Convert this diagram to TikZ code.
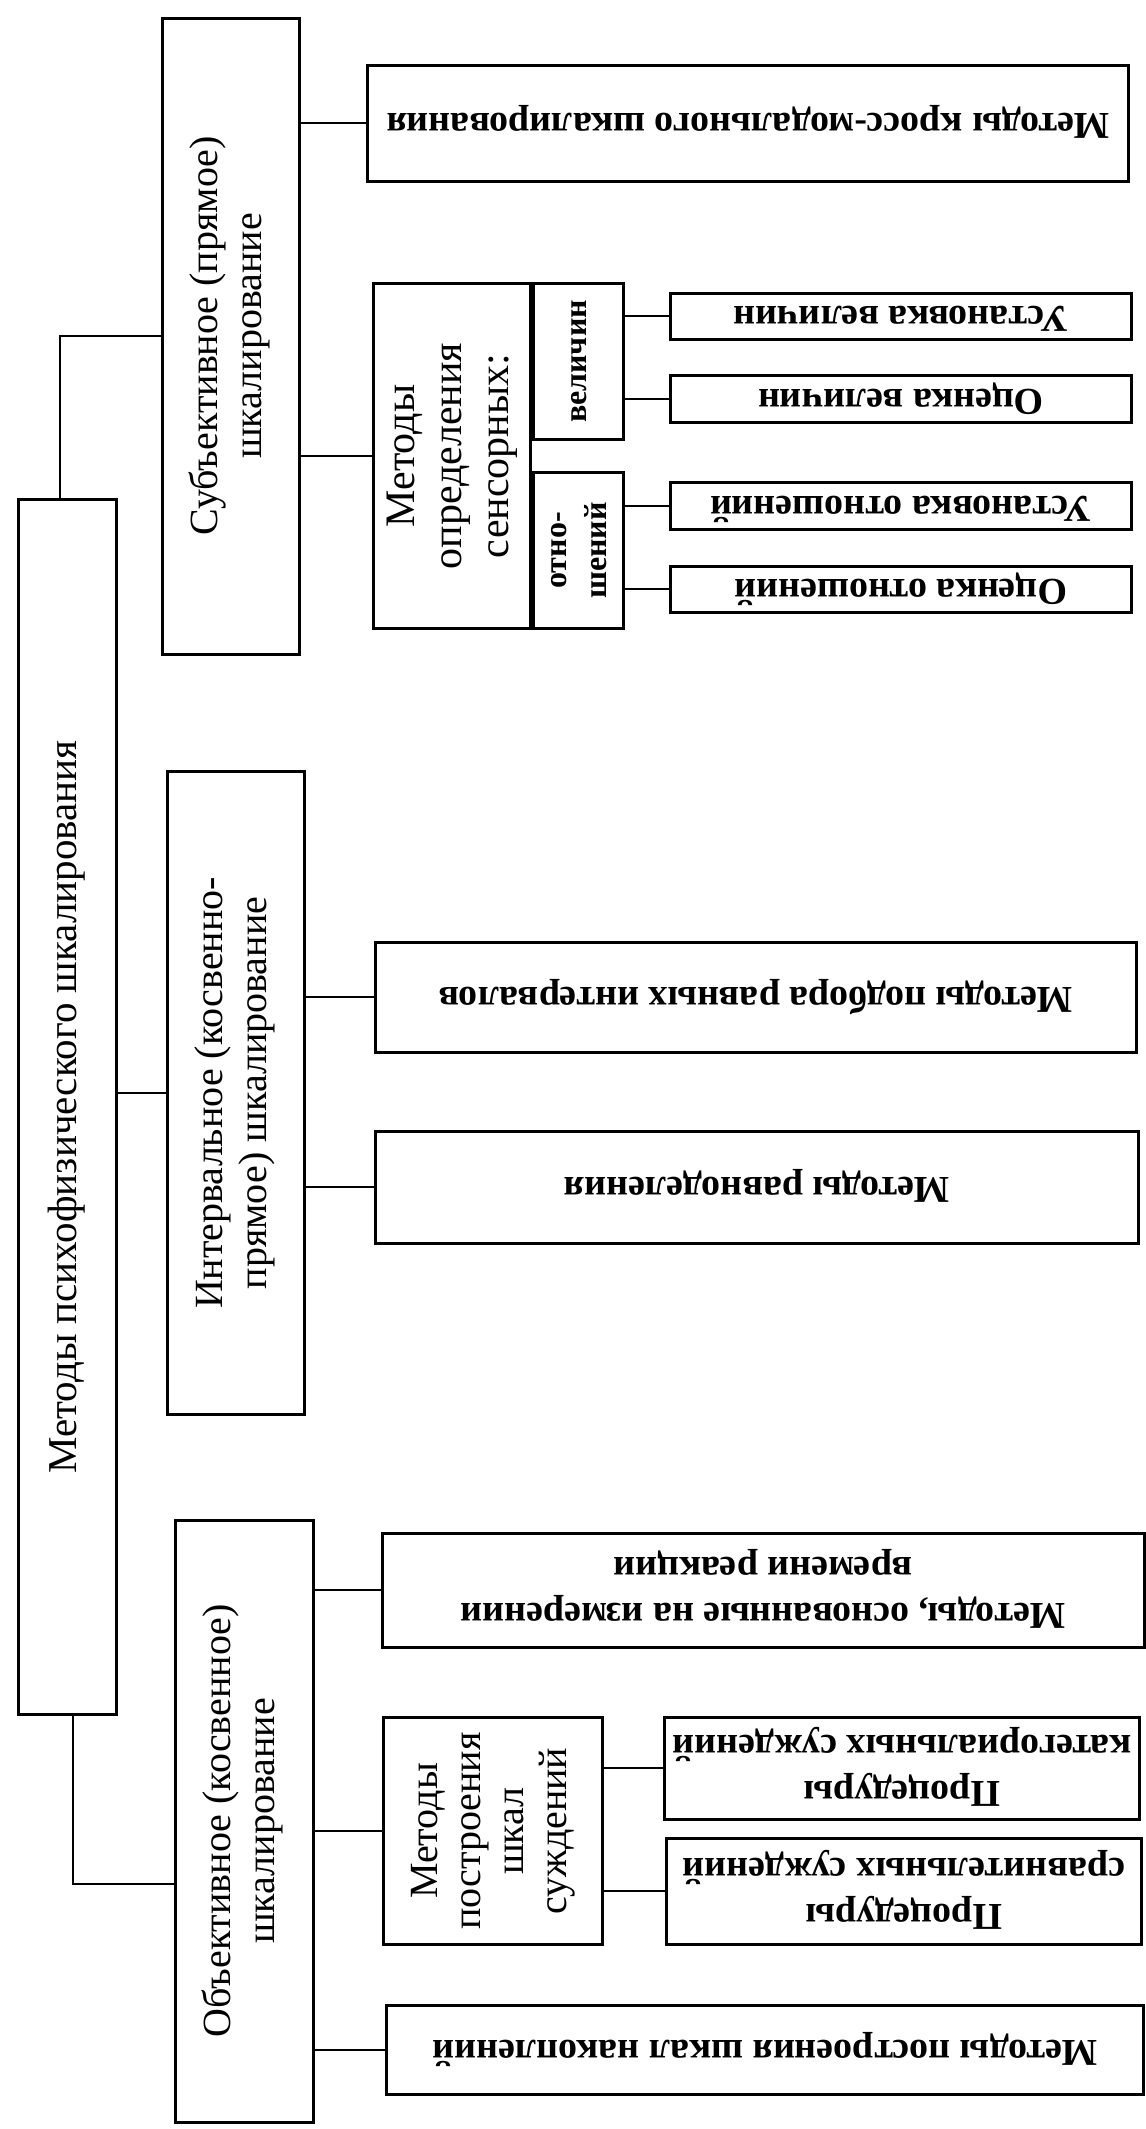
\documentclass[tikz,border=0pt]{standalone}
\usepackage{graphicx}
\usepackage{fontspec}
\setmainfont{Liberation Serif}
\newcommand\upT[1]{\rotatebox{90}{\begin{tabular}{@{}c@{}}#1\end{tabular}}}
\newcommand\dnT[1]{\rotatebox{180}{\begin{tabular}{@{}c@{}}#1\end{tabular}}}
\tikzset{
  bx/.style={draw, line width=3pt, rectangle, inner sep=0pt, align=center,
    font=\fontsize{40}{44}\selectfont},
  mid/.style={bx, font=\fontsize{42}{47}\selectfont},
  sub/.style={bx, font=\fontsize{32}{40}\selectfont\bfseries},
  lf/.style={bx, font=\fontsize{38}{46}\selectfont\bfseries},
  ln/.style={line width=2.5pt}
}
\begin{document}
\begin{tikzpicture}[x=1pt,y=-1pt]
\useasboundingbox[fill=white] (0,0) rectangle (1146,2129);
% root
\node[bx, font=\fontsize{41}{46}\selectfont, minimum width=98pt, minimum height=1215pt] (root) at (67,1107) {\upT{Методы психофизического шкалирования}};
% level 1
\node[bx, minimum width=137pt, minimum height=636pt] (subj) at (231,336) {\upT{Субъективное (прямое)\\шкалирование}};
\node[bx, minimum width=137pt, minimum height=643pt] (intv) at (236,1093) {\upT{Интервальное (косвенно-\\прямое) шкалирование}};
\node[bx, minimum width=138pt, minimum height=602pt] (obj) at (244,1821) {\upT{Объективное (косвенное)\\шкалирование}};
% subjective children
\node[lf, minimum width=761pt, minimum height=116pt] (cross) at (748,123) {\dnT{Методы кросс-модального шкалирования}};
\node[mid, minimum width=157pt, minimum height=345pt] (sens) at (452,456) {\upT{Методы\\определения\\сенсорных:}};
\node[sub, minimum width=90pt, minimum height=156pt, anchor=north west] (vel) at (sens.north east) {\upT{величин}};
\node[sub, minimum width=90pt, minimum height=156pt, anchor=south west] (otn) at (sens.south east) {\upT{отно-\\шений}};
\node[lf, minimum width=461pt, minimum height=46pt] (uv) at (901,316) {\dnT{Установка величин}};
\node[lf, minimum width=461pt, minimum height=47pt] (ov) at (901,399) {\dnT{Оценка величин}};
\node[lf, minimum width=461pt, minimum height=47pt] (uo) at (901,506) {\dnT{Установка отношений}};
\node[lf, minimum width=461pt, minimum height=46pt] (oo) at (901,589) {\dnT{Оценка отношений}};
% interval children
\node[lf, minimum width=761pt, minimum height=110pt] (podb) at (756,997) {\dnT{Методы подбора равных интервалов}};
\node[lf, minimum width=763pt, minimum height=112pt] (ravn) at (757,1187) {\dnT{Методы равноделения}};
% objective children
\node[lf, minimum width=762pt, minimum height=114pt] (vrem) at (763,1590) {\dnT{Методы, основанные на измерении\\времени реакции}};
\node[mid, font=\fontsize{40}{43}\selectfont, minimum width=219pt, minimum height=227pt] (sujd) at (493,1831) {\upT{Методы\\построения\\шкал\\суждений}};
\node[lf, minimum width=475pt, minimum height=102pt] (kat) at (902,1768) {\dnT{Процедуры\\категориальных суждений}};
\node[lf, minimum width=475pt, minimum height=106pt] (srav) at (904,1891) {\dnT{Процедуры\\сравнительных суждений}};
\node[lf, minimum width=757pt, minimum height=89pt] (nak) at (765,2050) {\dnT{Методы построения шкал накоплений}};
% connectors
\coordinate (r1) at (60,336);
\coordinate (r3) at (73,1884);
\draw[ln] (root.north -| r1) |- (subj.west);
\draw[ln] (root.east |- intv.west) -- (intv.west);
\draw[ln] (root.south -| r3) |- (obj.west |- r3);
\draw[ln] (subj.east |- cross.west) -- (cross.west);
\draw[ln] (subj.east |- sens.west) -- (sens.west);
\draw[ln] (vel.east |- uv.west) -- (uv.west);
\draw[ln] (vel.east |- ov.west) -- (ov.west);
\draw[ln] (otn.east |- uo.west) -- (uo.west);
\draw[ln] (otn.east |- oo.west) -- (oo.west);
\draw[ln] (intv.east |- podb.west) -- (podb.west);
\draw[ln] (intv.east |- ravn.west) -- (ravn.west);
\draw[ln] (obj.east |- vrem.west) -- (vrem.west);
\draw[ln] (obj.east |- sujd.west) -- (sujd.west);
\draw[ln] (sujd.east |- kat.west) -- (kat.west);
\draw[ln] (sujd.east |- srav.west) -- (srav.west);
\draw[ln] (obj.east |- nak.west) -- (nak.west);
\end{tikzpicture}
\end{document}
